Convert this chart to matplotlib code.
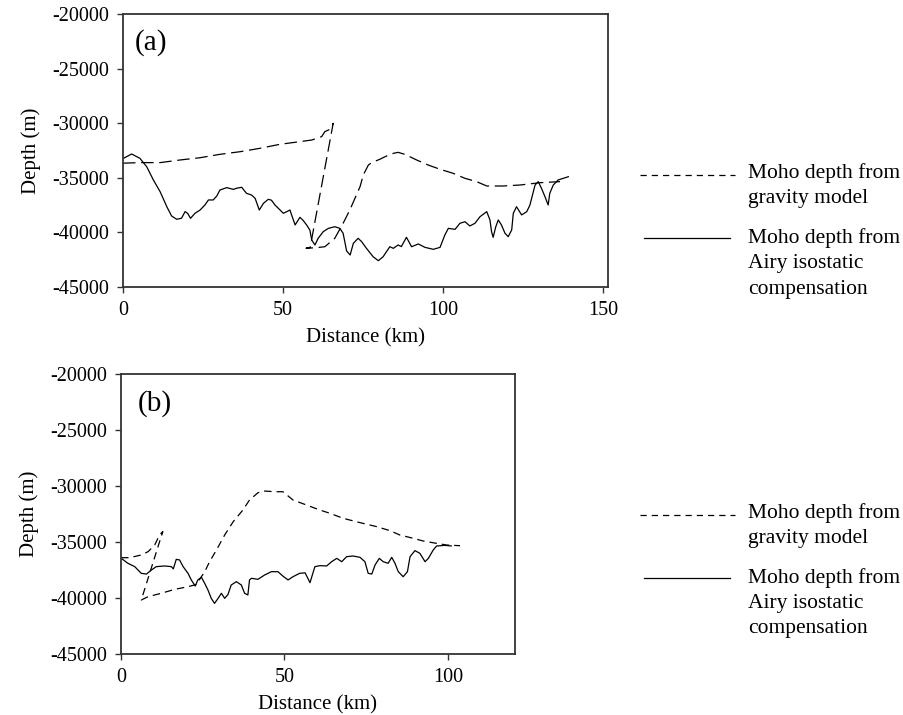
import matplotlib
matplotlib.use("Agg")
import matplotlib.pyplot as plt
from matplotlib.lines import Line2D

plt.rcParams['font.family'] = ['Liberation Serif', 'DejaVu Serif']
plt.rcParams['axes.unicode_minus'] = False

# ---- panel (a) data (distance km, depth m) ----
a_airy_km = [0.1, 2.7, 5.3, 7.4, 9.5, 11.6, 13.7, 15.2, 16.8, 18.3, 19.4, 20.2, 21.1, 22.5, 24.1,
             25.6, 26.7, 28.2, 29.3, 30.3, 32.4, 34.5, 35.6, 37.1, 38.6, 40.2, 41.3, 42.6, 43.9,
             45.4, 46.4, 47.5, 49.1, 50.1, 51.2, 52.2, 52.7, 53.8, 55.3, 56.3, 57.4, 58.4, 59,
             60, 61, 62.6, 64.2, 66.2, 67.8, 68.8, 69.9, 71, 72, 73.5, 74.6, 76.1, 78.2, 79.8,
             81.3, 83.4, 84.5, 86, 87, 88.6, 90.2, 92.3, 94.4, 97, 99.1, 100.6, 101.7, 103.8,
             105.3, 106.9, 108.4, 110, 111.6, 113.7, 114.7, 115.2, 115.7, 116.5, 117.3, 118.3,
             119.4, 120.4, 121.5, 122, 123, 124.6, 126.2, 127.2, 128.8, 129.8, 130.8, 131.9,
             132.9, 133.4, 134.5, 136, 137.6, 139.2]
a_airy_depth = [-33220, -32820, -33220, -33980, -35200, -36270, -37650, -38500, -38800, -38700,
                -38100, -38250, -38710, -38250, -37950, -37490, -37030, -37030, -36670, -36120,
                -35900, -36060, -35950, -35870, -36420, -36580, -36880, -37950, -37340, -36970,
                -37050, -37490, -37950, -38250, -38100, -37950, -38400, -39320, -38620, -38900,
                -39320, -39780, -40700, -41150, -40540, -39930, -39630, -39480, -39630, -40080,
                -41700, -42070, -41000, -40540, -40850, -41460, -42230, -42590, -42230, -41310,
                -41460, -41150, -41300, -40450, -41310, -41060, -41370, -41550, -41370, -40240,
                -39630, -39720, -39170, -39020, -39410, -39170, -38560, -38100, -38860, -39930,
                -40450, -39500, -38860, -39320, -40080, -40390, -39780, -38250, -37650, -38400,
                -38100, -37490, -35660, -35350, -35960, -36730, -37490, -36420, -35660, -35200,
                -35050, -34900]

a_grav_km = [0, 5.3, 11.6, 17.8, 24.1, 30.3, 36.6, 42.8, 49.1, 55.3, 59, 62.1, 63.1, 64.7, 65.7,
             58.5, 57.2, 60.5, 63.1, 66.2, 68.8, 70.9, 72.5, 74.1, 75.1, 76.7, 77.7, 80.3, 82.4,
             84.5, 86, 88.1, 91.8, 95.4, 99.1, 103.2, 106.9, 110.5, 113.7, 118.9, 124.1, 130.3,
             136.6]
a_grav_depth = [-33660, -33610, -33610, -33370, -33160, -32850, -32610, -32300, -31930, -31690,
                -31540, -31230, -30770, -30560, -30010, -41380, -41450, -41400, -41310, -40540,
                -39170, -37950, -36880, -35810, -34740, -33830, -33620, -33300, -33000, -32760,
                -32670, -32850, -33370, -33830, -34220, -34590, -35050, -35350, -35750, -35750,
                -35660, -35450, -35350]

# ---- panel (b) data ----
b_airy_km = [0.1, 2.1, 4.2, 6.2, 7.8, 9.3, 10.8, 13.4, 15.4, 16, 16.9, 17.9, 19, 20.5, 21.5,
             22.7, 23.5, 24.6, 25.6, 26.6, 27.6, 28.6, 29.7, 30.7, 31.7, 32.7, 33.7, 35.3, 36.8,
             37.8, 38.8, 39.3, 39.9, 41.9, 43.9, 46, 48, 49.5, 51.1, 52.6, 54.6, 56.3, 57.8,
             59.3, 60.9, 62.9, 64.4, 66, 67.5, 69, 71, 73.1, 74.6, 75.6, 76.7, 77.7, 79, 80.2,
             81.7, 82.8, 83.8, 84.8, 86.3, 87.6, 88.4, 89.9, 91.4, 93, 94, 95.5, 96.5, 99, 101]
b_airy_depth = [-36460, -36900, -37200, -37800, -37860, -37500, -37200, -37140, -37200, -37400,
                -36550, -36600, -37200, -37800, -38390, -38930, -38390, -38150, -38690, -39290,
                -40030, -40480, -40030, -39580, -40030, -39700, -38840, -38540, -38840, -39580,
                -39730, -38390, -38240, -38330, -37950, -37650, -37650, -38040, -38390, -38100,
                -37800, -37750, -38630, -37200, -37110, -37140, -36760, -36460, -36760, -36310,
                -36250, -36370, -36760, -37800, -37860, -37050, -36460, -36760, -36900, -36370,
                -36900, -37650, -38100, -37650, -36310, -35770, -36010, -36760, -36460, -35710,
                -35360, -35300, -35350]

b_grav_km = [0, 2.6, 6.2, 8.3, 10.3, 11.3, 12.3, 12.8, 11.8, 6.2, 8.3, 12.3, 16.4, 20.5, 23,
             25.6, 27.1, 29.2, 31.7, 34.3, 37.3, 39.3, 41.9, 43.9, 47, 49.5, 52.6, 56.2, 60.2,
             63.9, 68, 73.1, 78.2, 82.3, 85.3, 89.4, 92.4, 96.5, 99.6, 103.7]
b_grav_depth = [-36400, -36400, -36160, -35860, -35270, -34670, -34220, -34070, -34970, -40180,
                -39880, -39580, -39230, -38990, -38800, -37650, -36760, -35710, -34380, -33190,
                -32140, -31250, -30600, -30450, -30510, -30510, -31250, -31640, -32080, -32440,
                -32890, -33270, -33630, -33990, -34380, -34670, -34910, -35120, -35270, -35330]

y_ticks = [-45000, -40000, -35000, -30000, -25000, -20000]
y_labels = ['-45000', '-40000', '-35000', '-30000', '-25000', '-20000']
key_labels = [["Moho depth from", "gravity model"],
              ["Moho depth from", "Airy isostatic", "compensation"]]

W, H = 904, 715
fig = plt.figure(figsize=(W / 100, H / 100), dpi=100)


def px(x, y):
    return x / W, 1 - y / H


def setup(ax, xmax, xticks, tag, tag_x):
    ax.set_xlim(0, xmax)
    ax.set_ylim(-45000, -20000)
    ax.set_xticks(xticks)
    ax.set_xticklabels([str(t) for t in xticks])
    ax.set_yticks(y_ticks)
    ax.set_yticklabels(y_labels)
    ax.tick_params(direction='out', length=4, width=1, labelsize=14.5, pad=6, color='#333333')
    for s in ax.spines.values():
        s.set_color('#333333')
        s.set_linewidth(1.3)
    ax.set_xlabel('Distance (km)', fontsize=15, labelpad=6)
    ax.set_ylabel('Depth (m)', fontsize=15, labelpad=8)
    ax.text(tag_x, 0.895, tag, transform=ax.transAxes, fontsize=21, va='center', ha='left')


def draw_key(y_dash, y_solid, text_x):
    fig.add_artist(Line2D([640 / W, 735 / W], [1 - y_dash / H] * 2, color='black', lw=0.9,
                          dashes=(5, 4)))
    fig.add_artist(Line2D([644 / W, 730 / W], [1 - y_solid / H] * 2, color='black', lw=0.9))
    for i, t in enumerate(key_labels[0]):
        fig.text(*px(text_x, y_dash - 2 + 25 * i), t, fontsize=15.5, va='center', ha='left')
    for i, t in enumerate(key_labels[1]):
        fig.text(*px(text_x, y_solid + 25.5 * i), t, fontsize=15.5, va='center', ha='left')


# panel (a)
ax1 = fig.add_axes([123 / W, 1 - 287 / H, 485 / W, 273 / H])
ax1.plot(a_grav_km, a_grav_depth, color='black', lw=0.9, dashes=(10, 4.5))
ax1.plot(a_airy_km, a_airy_depth, color='black', lw=0.9)
setup(ax1, 151.6, [0, 50, 100, 150], '(a)', 0.025)

# panel (b)
ax2 = fig.add_axes([121 / W, 1 - 654 / H, 394 / W, 280 / H])
ax2.plot(b_grav_km, b_grav_depth, color='black', lw=0.9, dashes=(6, 4))
ax2.plot(b_airy_km, b_airy_depth, color='black', lw=0.9)
setup(ax2, 120.5, [0, 50, 100], '(b)', 0.043)

draw_key(175, 238, 748)
draw_key(515, 578, 748)

fig.savefig('out.png', dpi=100)
